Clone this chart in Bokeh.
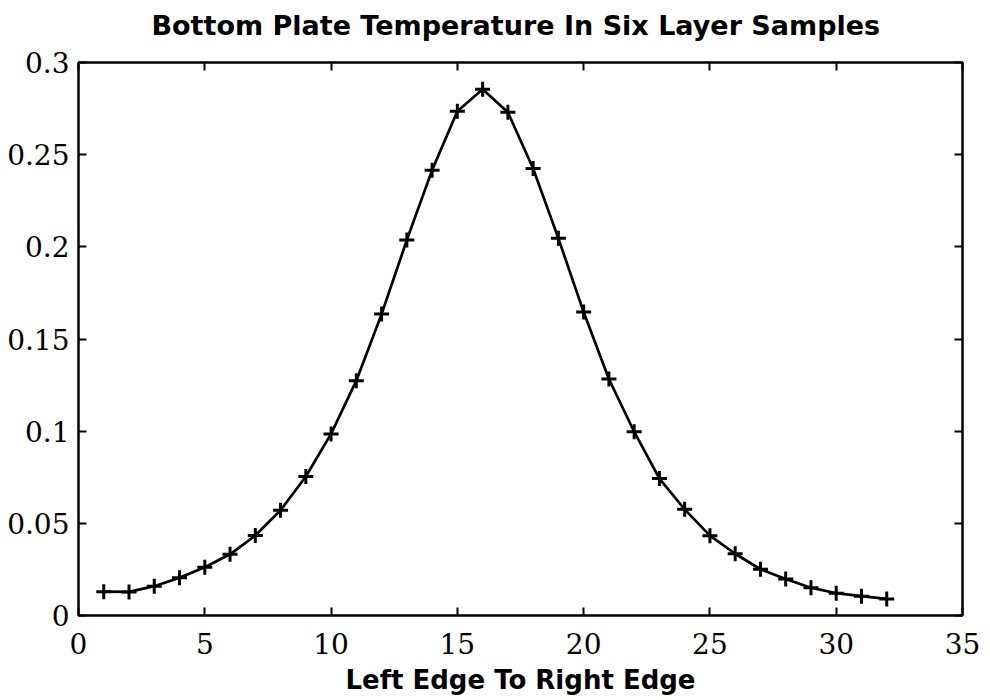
from bokeh.plotting import figure
from bokeh.models import LinearAxis, FixedTicker, Range1d
from bokeh.embed import file_html
from bokeh.resources import INLINE

# ---- data ----
position = list(range(1, 33))
temperature = [0.0129, 0.0128, 0.0159, 0.0205, 0.0262, 0.0332, 0.0434, 0.0571,
               0.0754, 0.0985, 0.1274, 0.1635, 0.2037, 0.2416, 0.2736, 0.2855,
               0.2730, 0.2425, 0.2046, 0.1646, 0.1283, 0.0997, 0.0743, 0.0576,
               0.0433, 0.0335, 0.0251, 0.0198, 0.0151, 0.0121, 0.0105, 0.0090]
x_ticks = [0, 5, 10, 15, 20, 25, 30, 35]
x_tick_labels = ["0", "5", "10", "15", "20", "25", "30", "35"]
y_ticks = [0, 0.05, 0.1, 0.15, 0.2, 0.25, 0.3]
y_tick_labels = ["0", "0.05", "0.1", "0.15", "0.2", "0.25", "0.3"]
title_text = "Bottom Plate Temperature In Six Layer  Samples"
x_label = "Left Edge To Right Edge"

SERIF = "DejaVu Serif"
SANS = "DejaVu Sans"

p = figure(width=990, height=700, output_backend="svg", toolbar_location=None,
           x_range=Range1d(0, 35), y_range=Range1d(0, 0.3),
           min_border_left=78, min_border_right=28, min_border_top=62,
           min_border_bottom=85, x_axis_location=None, y_axis_location=None)
p.grid.visible = False
p.outline_line_color = "black"
p.outline_line_width = 2
p.background_fill_color = "white"
p.border_fill_color = "white"


def style_axis(ax, ticks, labels, show_labels):
    ax.ticker = FixedTicker(ticks=ticks)
    ax.major_tick_in = 8
    ax.major_tick_out = 0
    ax.minor_tick_line_color = None
    ax.axis_line_color = "black"
    ax.axis_line_width = 2
    ax.major_tick_line_width = 2
    ax.major_tick_line_color = "black"
    if show_labels:
        ax.major_label_overrides = {t: l for t, l in zip(ticks, labels)}
        ax.major_label_text_font = SERIF
        ax.major_label_text_font_size = "28px"
        ax.major_label_text_color = "black"
    else:
        ax.major_label_overrides = {t: "" for t in ticks}
        ax.major_label_text_font_size = "1px"
        ax.major_label_standoff = 0


xb = LinearAxis()
style_axis(xb, x_ticks, x_tick_labels, True)
xb.major_label_standoff = 17
xb.axis_label = x_label
xb.axis_label_text_font = SANS
xb.axis_label_text_font_style = "bold"
xb.axis_label_text_font_size = "26px"
xb.axis_label_text_color = "black"
xb.axis_label_standoff = 8
p.add_layout(xb, "below")

yl = LinearAxis()
style_axis(yl, y_ticks, y_tick_labels, True)
yl.major_label_standoff = 9
p.add_layout(yl, "left")

# top axis: inward ticks only; the chart title sits above it
xt = LinearAxis()
style_axis(xt, x_ticks, x_tick_labels, False)
xt.axis_label = title_text
xt.axis_label_text_font = SANS
xt.axis_label_text_font_style = "bold"
xt.axis_label_text_font_size = "27px"
xt.axis_label_text_color = "black"
xt.axis_label_standoff = 22
p.add_layout(xt, "above")

yr = LinearAxis()
style_axis(yr, y_ticks, y_tick_labels, False)
p.add_layout(yr, "right")

p.line(position, temperature, line_color="black", line_width=2.7)
p.scatter(position, temperature, marker="cross", size=15, line_color="black",
          line_width=3)

open("out.html", "w").write(file_html(p, INLINE))
